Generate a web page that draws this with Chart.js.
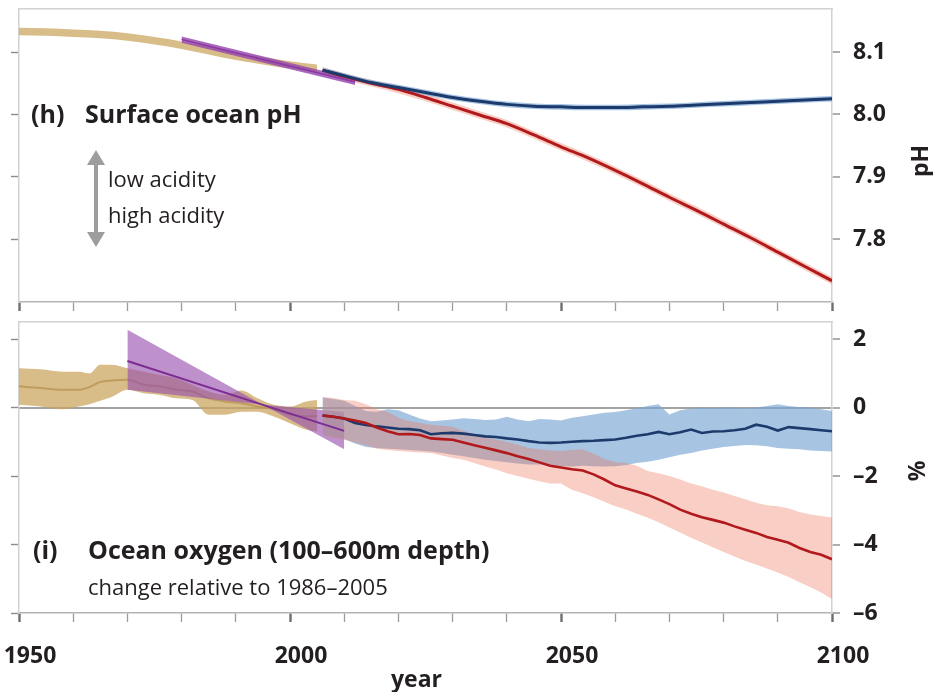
<!DOCTYPE html>
<html lang="en">
<head>
<meta charset="utf-8">
<title>Surface ocean pH and ocean oxygen</title>
<script src="https://cdn.jsdelivr.net/npm/chart.js@4.4.1/dist/chart.umd.min.js"></script>
<style>
  html, body { margin: 0; padding: 0; background: #fff; }
  body { position: relative; width: 933px; height: 692px; overflow: hidden; }
  canvas { position: absolute; left: 0; }
  #phChart { top: 0; }
  #o2Chart { top: 316px; }
</style>
</head>
<body>
<canvas id="phChart" width="933" height="316"></canvas>
<canvas id="o2Chart" width="933" height="376"></canvas>
<script>
// ---------- shared axis values ----------
const xTickYears  = [1950, 1960, 1970, 1980, 1990, 2000, 2010, 2020, 2030, 2040, 2050, 2060, 2070, 2080, 2090, 2100];
const xLabelYears = [1950, 2000, 2050, 2100];
const phTicks = [7.8, 7.9, 8.0, 8.1];
const o2Ticks = [-6, -4, -2, 0, 2];

// ---------- (h) surface ocean pH ----------
const phHistYears  = [1950, 1955, 1960, 1965, 1970, 1975, 1980, 1985, 1990, 1995, 2000, 2005];
const phHistMean   = [8.133, 8.132, 8.130, 8.128, 8.124, 8.118, 8.111, 8.102, 8.093, 8.086, 8.079, 8.074];
const phHistSpread = [0.006, 0.006, 0.006, 0.006, 0.006, 0.006, 0.006, 0.006, 0.006, 0.006, 0.006, 0.006];

const phObsYears  = [1980, 2012];
const phObsMean   = [8.120, 8.052];
const phObsSpread = [0.005, 0.005];

const phProjYears   = [2006, 2010, 2015, 2020, 2025, 2030, 2035, 2040, 2045, 2050, 2055, 2060, 2065, 2070, 2075, 2080, 2085, 2090, 2095, 2100];
const phRcp26Mean   = [8.071, 8.062, 8.051, 8.043, 8.035, 8.027, 8.021, 8.016, 8.013, 8.012, 8.011, 8.011, 8.012, 8.013, 8.015, 8.017, 8.019, 8.021, 8.023, 8.025];
const phRcp26Spread = [0.004, 0.004, 0.004, 0.0045, 0.0045, 0.0045, 0.0045, 0.0045, 0.0045, 0.0045, 0.0045, 0.0045, 0.0045, 0.0045, 0.0045, 0.0045, 0.0045, 0.0045, 0.0045, 0.0045];
const phRcp85Mean   = [8.071, 8.061, 8.050, 8.040, 8.027, 8.013, 7.999, 7.985, 7.967, 7.948, 7.930, 7.910, 7.889, 7.867, 7.846, 7.824, 7.802, 7.779, 7.756, 7.733];
const phRcp85Spread = [0.005, 0.005, 0.0055, 0.006, 0.006, 0.006, 0.006, 0.006, 0.006, 0.006, 0.006, 0.006, 0.006, 0.006, 0.006, 0.006, 0.006, 0.006, 0.006, 0.006];

// ---------- (i) ocean oxygen, % change relative to 1986-2005 ----------
const o2HistYears = [1950, 1954, 1958, 1961, 1963, 1965, 1967, 1970, 1973, 1976, 1979, 1982, 1985, 1988, 1991, 1994, 1997, 2000, 2003, 2005];
const o2HistMean  = [0.62, 0.57, 0.52, 0.52, 0.60, 0.75, 0.79, 0.81, 0.67, 0.62, 0.52, 0.47, 0.27, 0.18, 0.13, 0.03, -0.05, -0.20, -0.25, -0.25];
const o2HistHigh  = [1.15, 1.12, 1.05, 1.05, 1.00, 1.25, 1.25, 1.15, 1.05, 0.95, 0.85, 0.66, 0.47, 0.37, 0.50, 0.27, 0.08, 0.03, 0.18, 0.22];
const o2HistLow   = [0.08, 0.03, -0.05, 0.03, 0.10, 0.20, 0.30, 0.52, 0.42, 0.37, 0.27, 0.22, -0.21, -0.21, -0.12, -0.12, -0.26, -0.46, -0.65, -0.70];

// observed linear trend and its confidence fan (the two edges cross near 1995)
const o2TrendYears  = [1970, 1995, 2010];
const o2TrendMean   = [1.36, 0.08, -0.68];
const o2TrendEdgeA  = [2.27, 0.08, -1.22];
const o2TrendEdgeB  = [0.52, 0.08, -0.13];

const o2ProjYears = [
  2006, 2008, 2010, 2012, 2014, 2016, 2018, 2020, 2022, 2024, 2026, 2028,
  2030, 2032, 2034, 2036, 2038, 2040, 2042, 2044, 2046, 2048, 2050, 2052,
  2054, 2056, 2058, 2060, 2062, 2064, 2066, 2068, 2070, 2072, 2074, 2076,
  2078, 2080, 2082, 2084, 2086, 2088, 2090, 2092, 2094, 2096, 2098, 2100];
const o2Rcp26Mean = [
  -0.23, -0.27, -0.32, -0.45, -0.51, -0.55, -0.58, -0.62, -0.63, -0.66, -0.78, -0.75,
  -0.74, -0.76, -0.80, -0.84, -0.86, -0.90, -0.93, -0.98, -1.02, -1.03, -1.02, -1.00,
  -0.98, -0.97, -0.95, -0.93, -0.88, -0.82, -0.78, -0.71, -0.78, -0.72, -0.64, -0.74,
  -0.70, -0.69, -0.66, -0.62, -0.50, -0.56, -0.67, -0.57, -0.60, -0.63, -0.66, -0.69];
const o2Rcp26High = [
  0.30, 0.25, 0.20, 0.05, -0.10, -0.12, -0.05, -0.08, -0.20, -0.32, -0.40, -0.38,
  -0.35, -0.31, -0.33, -0.36, -0.35, -0.27, -0.35, -0.40, -0.33, -0.35, -0.38, -0.30,
  -0.25, -0.20, -0.15, -0.13, -0.08, -0.02, 0.05, 0.10, -0.20, -0.08, -0.03, 0.00,
  -0.02, 0.00, 0.00, -0.03, 0.00, 0.05, 0.10, 0.05, 0.02, 0.00, -0.05, -0.10];
const o2Rcp26Low = [
  -0.80, -0.85, -0.92, -1.05, -1.15, -1.18, -1.20, -1.22, -1.24, -1.26, -1.28, -1.33,
  -1.38, -1.42, -1.47, -1.52, -1.56, -1.60, -1.63, -1.66, -1.66, -1.70, -1.71, -1.72,
  -1.70, -1.71, -1.72, -1.71, -1.68, -1.62, -1.58, -1.52, -1.45, -1.38, -1.33, -1.25,
  -1.20, -1.15, -1.12, -1.09, -1.10, -1.13, -1.18, -1.20, -1.22, -1.25, -1.27, -1.28];
const o2Rcp85Mean = [
  -0.23, -0.27, -0.32, -0.38, -0.45, -0.58, -0.69, -0.78, -0.77, -0.80, -0.90, -0.92,
  -0.94, -1.02, -1.10, -1.17, -1.25, -1.33, -1.42, -1.50, -1.60, -1.70, -1.75, -1.80,
  -1.84, -1.95, -2.10, -2.27, -2.36, -2.45, -2.55, -2.68, -2.82, -2.98, -3.10, -3.20,
  -3.28, -3.36, -3.47, -3.57, -3.66, -3.78, -3.86, -3.95, -4.10, -4.22, -4.30, -4.43];
const o2Rcp85High = [
  0.30, 0.28, 0.22, 0.20, 0.10, -0.05, -0.12, -0.30, -0.40, -0.45, -0.50, -0.53,
  -0.56, -0.68, -0.78, -0.86, -0.93, -1.00, -1.08, -1.18, -1.22, -1.25, -1.27, -1.24,
  -1.22, -1.35, -1.50, -1.60, -1.62, -1.70, -1.85, -1.92, -2.00, -2.10, -2.22, -2.30,
  -2.40, -2.48, -2.58, -2.68, -2.78, -2.85, -2.88, -2.95, -3.05, -3.12, -3.17, -3.21];
const o2Rcp85Low = [
  -0.80, -0.88, -0.94, -1.02, -1.10, -1.20, -1.24, -1.27, -1.29, -1.31, -1.33, -1.40,
  -1.47, -1.52, -1.62, -1.72, -1.81, -1.92, -2.00, -2.08, -2.15, -2.22, -2.22, -2.40,
  -2.50, -2.62, -2.75, -2.88, -2.98, -3.10, -3.22, -3.35, -3.50, -3.65, -3.80, -3.94,
  -4.08, -4.22, -4.35, -4.48, -4.58, -4.70, -4.82, -4.95, -5.10, -5.25, -5.40, -5.59];

// ---------- styling ----------
const FONT = '"Open Sans", "DejaVu Sans", sans-serif';
const INK = '#231f20';
const COLORS = {
  histBand: 'rgba(203, 166, 94, 0.74)',
  histLine: 'rgba(180, 145, 80, 0.75)',
  obsBand: 'rgba(150, 78, 172, 0.62)',
  obsBandPh: 'rgba(150, 70, 175, 0.82)',
  obsLine: '#7d2c92',
  lowBand: 'rgba(120, 165, 210, 0.65)',
  lowLine: '#1c3a6b',
  highBand: 'rgba(235, 120, 95, 0.36)',
  highLine: '#b2191c'
};
Chart.defaults.font.family = FONT;

const pts = (xs, ys) => xs.map((x, i) => ({ x: x, y: ys[i] }));
const shift = (ys, spread, sign) => ys.map((v, i) => v + sign * spread[i]);

function line(label, xs, ys, color, width, order, smooth) {
  return {
    label, data: pts(xs, ys), borderColor: color, borderWidth: width,
    pointRadius: 0, fill: false, order,
    tension: smooth ? 0.4 : 0, cubicInterpolationMode: smooth ? 'monotone' : 'default'
  };
}
function band(label, xs, upper, lower, color, order, smooth) {
  const base = {
    pointRadius: 0, borderWidth: 0, borderColor: 'rgba(0,0,0,0)', order,
    tension: smooth ? 0.4 : 0, cubicInterpolationMode: smooth ? 'monotone' : 'default'
  };
  return [
    Object.assign({}, base, { label: label + ' upper', data: pts(xs, upper), fill: '+1', backgroundColor: color }),
    Object.assign({}, base, { label: label + ' lower', data: pts(xs, lower), fill: false })
  ];
}

// free-standing panel text and the acidity arrow
function panelText(items, arrow) {
  return {
    id: 'panelText',
    afterDraw(chart) {
      const ctx = chart.ctx;
      items.forEach(it => {
        ctx.save();
        ctx.font = it.font;
        ctx.fillStyle = it.color || INK;
        ctx.textAlign = it.align || 'left';
        ctx.textBaseline = it.baseline || 'alphabetic';
        ctx.translate(it.x, it.y);
        if (it.rotate) ctx.rotate(it.rotate);
        ctx.fillText(it.text, 0, 0);
        ctx.restore();
      });
      if (arrow) {
        const { x, top, bottom, head, headW, shaft, color } = arrow;
        ctx.save();
        ctx.fillStyle = color;
        ctx.fillRect(x - shaft / 2, top + head - 1, shaft, bottom - top - 2 * head + 2);
        ctx.beginPath();
        ctx.moveTo(x, top); ctx.lineTo(x + headW / 2, top + head); ctx.lineTo(x - headW / 2, top + head);
        ctx.closePath(); ctx.fill();
        ctx.beginPath();
        ctx.moveTo(x, bottom); ctx.lineTo(x + headW / 2, bottom - head); ctx.lineTo(x - headW / 2, bottom - head);
        ctx.closePath(); ctx.fill();
        ctx.restore();
      }
    }
  };
}

function scales(cfg) {
  const isMajor = c => c.tick && xLabelYears.includes(c.tick.value);
  return {
    x: {
      type: 'linear', axis: 'x', position: 'bottom', min: 1950, max: 2100,
      afterBuildTicks: s => { s.ticks = xTickYears.map(v => ({ value: v })); },
      ticks: {
        display: cfg.xLabels, autoSkip: false, maxRotation: 0, minRotation: 0,
        padding: 21, labelOffset: 11, color: INK,
        font: { family: FONT, size: 23, weight: 'bold' },
        callback: v => (xLabelYears.includes(v) ? String(v) : '')
      },
      grid: {
        drawOnChartArea: false, drawTicks: true, tickLength: 9,
        tickColor: c => (isMajor(c) ? '#6e6e6e' : '#9c9c9c'),
        tickWidth: c => (isMajor(c) ? 2.4 : 1.3)
      },
      border: { display: true, color: '#b4b4b4', width: 1.5 },
      title: cfg.xTitle ? {
        display: true, text: 'year   ', color: INK, padding: { top: 0, bottom: 0.5 },
        font: { family: FONT, size: 23, weight: 'bold', lineHeight: 1 }
      } : { display: false },
      afterFit: s => { s.height = cfg.xHeight; s.paddingLeft = 0; s.paddingRight = 0; }
    },
    xTop: {
      type: 'linear', axis: 'x', position: 'top', min: 1950, max: 2100,
      ticks: { display: false }, grid: { display: false },
      border: { display: true, color: '#d2d2d2', width: 1.5 },
      afterFit: s => { s.height = 0; }
    },
    yLeft: {
      type: 'linear', axis: 'y', position: 'left', min: cfg.yMin, max: cfg.yMax,
      afterBuildTicks: s => { s.ticks = cfg.yTicks.map(v => ({ value: v })); },
      ticks: { display: false },
      grid: { drawOnChartArea: false, drawTicks: true, tickLength: 8, tickColor: '#8c8c8c', tickWidth: 1.4 },
      border: { display: true, color: '#d2d2d2', width: 1.5 },
      afterFit: s => { s.width = 19; s.paddingTop = 0; s.paddingBottom = 0; }
    },
    y: {
      type: 'linear', axis: 'y', position: 'right', min: cfg.yMin, max: cfg.yMax,
      afterBuildTicks: s => { s.ticks = cfg.yTicks.map(v => ({ value: v })); },
      ticks: {
        padding: 13, color: INK, font: { family: FONT, size: 23, weight: 'bold' },
        callback: cfg.yFormat
      },
      grid: {
        drawOnChartArea: cfg.zeroLine, drawTicks: true, tickLength: 8,
        color: c => (c.tick && c.tick.value === 0 ? '#a3a3a3' : 'rgba(0,0,0,0)'),
        lineWidth: 2, tickColor: '#8c8c8c', tickWidth: 1.4
      },
      border: { display: true, color: '#d2d2d2', width: 1.5 },
      afterFit: s => { s.width = 101; s.paddingTop = 0; s.paddingBottom = 0; }
    }
  };
}

function baseOptions(cfg) {
  return {
    responsive: false, animation: false, events: [],
    layout: { padding: { top: cfg.padTop, left: 0, right: 0, bottom: 0 } },
    plugins: { legend: { display: false }, tooltip: { enabled: false } },
    scales: scales(cfg)
  };
}

// ---------- (h) pH panel ----------
new Chart(document.getElementById('phChart'), {
  type: 'line',
  data: {
    datasets: [
      line('RCP2.6', phProjYears, phRcp26Mean, COLORS.lowLine, 3, 1, true),
      line('RCP8.5', phProjYears, phRcp85Mean, COLORS.highLine, 3, 2, true),
      line('observed', phObsYears, phObsMean, '#8a3aa0', 1.5, 3, false),
      ...band('RCP2.6 range', phProjYears, shift(phRcp26Mean, phRcp26Spread, 1), shift(phRcp26Mean, phRcp26Spread, -1), COLORS.lowBand, 5, true),
      ...band('RCP8.5 range', phProjYears, shift(phRcp85Mean, phRcp85Spread, 1), shift(phRcp85Mean, phRcp85Spread, -1), COLORS.highBand, 6, true),
      ...band('observed range', phObsYears, shift(phObsMean, phObsSpread, 1), shift(phObsMean, phObsSpread, -1), COLORS.obsBandPh, 4, false),
      ...band('historical', phHistYears, shift(phHistMean, phHistSpread, 1), shift(phHistMean, phHistSpread, -1), COLORS.histBand, 8, true)
    ]
  },
  options: baseOptions({
    padTop: 9, xHeight: 14, xLabels: false, xTitle: false,
    yMin: 7.699, yMax: 8.169, yTicks: phTicks, zeroLine: false,
    yFormat: v => v.toFixed(1)
  }),
  plugins: [panelText([
    { text: '(h)', x: 31, y: 123, font: 'bold 25px ' + FONT },
    { text: 'Surface ocean pH', x: 85, y: 123, font: 'bold 25px ' + FONT },
    { text: 'low acidity', x: 108, y: 187, font: '22px ' + FONT },
    { text: 'high acidity', x: 108, y: 223, font: '22px ' + FONT },
    { text: 'pH', x: 921, y: 161, font: 'bold 23px ' + FONT, align: 'center', baseline: 'middle', rotate: -Math.PI / 2 }
  ], { x: 96, top: 150, bottom: 247, head: 15, headW: 18, shaft: 4, color: '#9d9d9d' })]
});

// ---------- (i) oxygen panel ----------
new Chart(document.getElementById('o2Chart'), {
  type: 'line',
  data: {
    datasets: [
      line('RCP8.5', o2ProjYears, o2Rcp85Mean, COLORS.highLine, 2.6, 1, false),
      line('RCP2.6', o2ProjYears, o2Rcp26Mean, COLORS.lowLine, 2.6, 2, false),
      line('observed trend', o2TrendYears, o2TrendMean, COLORS.obsLine, 2, 3, false),
      line('historical', o2HistYears, o2HistMean, COLORS.histLine, 2, 9, true),
      ...band('RCP8.5 range', o2ProjYears, o2Rcp85High, o2Rcp85Low, COLORS.highBand, 6, false),
      ...band('RCP2.6 range', o2ProjYears, o2Rcp26High, o2Rcp26Low, COLORS.lowBand, 7, false),
      ...band('trend range', o2TrendYears, o2TrendEdgeA, o2TrendEdgeB, COLORS.obsBand, 8, false),
      ...band('historical range', o2HistYears, o2HistHigh, o2HistLow, COLORS.histBand, 10, true)
    ]
  },
  options: baseOptions({
    padTop: 6, xHeight: 79, xLabels: true, xTitle: true,
    yMin: -6, yMax: 2.5, yTicks: o2Ticks, zeroLine: true,
    yFormat: v => (v < 0 ? '\u2013' + Math.abs(v) : String(v))
  }),
  plugins: [panelText([
    { text: '(i)', x: 33, y: 243, font: 'bold 25px ' + FONT },
    { text: 'Ocean oxygen (100\u2013600m depth)', x: 88, y: 243, font: 'bold 25px ' + FONT },
    { text: 'change relative to 1986\u20132005', x: 88, y: 279, font: '22px ' + FONT },
    { text: '%', x: 918, y: 155, font: 'bold 23px ' + FONT, align: 'center', baseline: 'middle', rotate: -Math.PI / 2 }
  ], null)]
});
</script>
</body>
</html>
